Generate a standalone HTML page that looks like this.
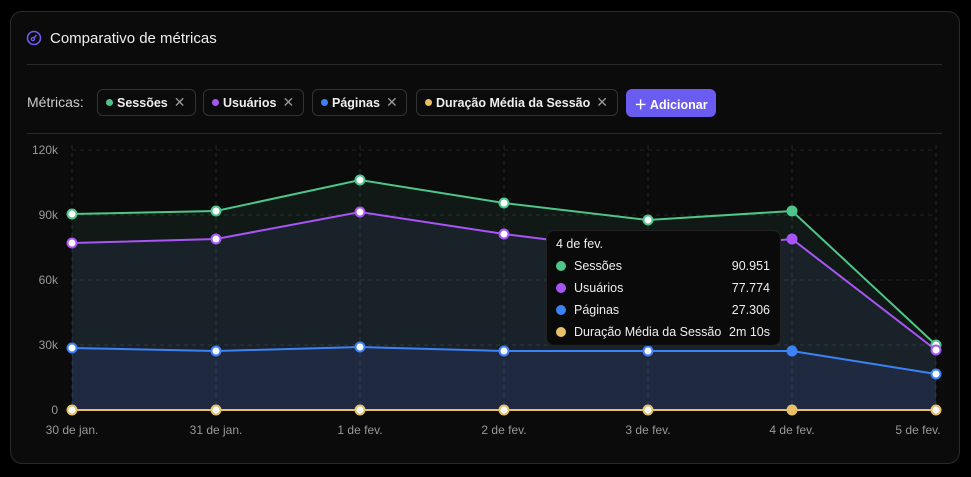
<!DOCTYPE html>
<html><head><meta charset="utf-8"><style>
body{margin:0;width:971px;height:477px;background:#000;font-family:"Liberation Sans",sans-serif;color:#e5e5e5;overflow:hidden;position:relative}
.card{position:absolute;left:10px;top:11px;width:948px;height:451px;border:1px solid #2a2a2a;border-radius:12px;background:#0b0b0b}
.title{position:absolute;left:50px;top:30px;font-size:15px;color:#eee}
.hr{position:absolute;left:27px;width:915px;height:1px;background:#2a2a2a}
.lbl{position:absolute;left:27px;top:94px;font-size:14px;color:#ccc}
.pill{position:absolute;top:89px;height:27px;border:1px solid #333;border-radius:6px;box-sizing:border-box;font-size:12.5px;font-weight:bold;color:#eee;display:flex;align-items:center;padding-left:8px}
.pill i{width:7px;height:7px;border-radius:50%;display:inline-block;margin-right:4px}
.pill b{font-weight:normal;color:#999;margin-left:6px;font-size:14px}
.add{position:absolute;left:626px;top:89px;width:90px;height:28px;border-radius:6px;background:#6a5cf0;color:#fff;font-size:12.5px;font-weight:bold;display:flex;align-items:center;justify-content:center}
.tt{position:absolute;left:546px;top:230px;width:235px;height:116px;background:#0a0a0a;border:1px solid #222;border-radius:8px;box-sizing:border-box;font-size:12.5px;color:#eee}
.row{position:absolute;left:9px;right:10px;display:flex;align-items:center}
.row i{width:10px;height:10px;border-radius:50%;margin-right:8px}
.row span:last-child{margin-left:auto}
</style></head><body>
<div class="card"></div>
<svg style="position:absolute;left:26px;top:30px" width="16" height="16" viewBox="0 0 16 16"><circle cx="8" cy="8" r="6.5" fill="none" stroke="#6a5cf0" stroke-width="1.6"/><circle cx="7" cy="9" r="1.6" fill="none" stroke="#6a5cf0" stroke-width="1.4"/><line x1="8" y1="8" x2="10.5" y2="5" stroke="#6a5cf0" stroke-width="1.4"/></svg>
<div class="title">Comparativo de métricas</div>
<div class="hr" style="top:64px"></div>
<div class="hr" style="top:133px"></div>
<div class="lbl">Métricas:</div>
<div class="pill" style="left:97px;width:99px"><i style="background:#4fc58a"></i>Sessões<b>✕</b></div>
<div class="pill" style="left:203px;width:101px"><i style="background:#a855f7"></i>Usuários<b>✕</b></div>
<div class="pill" style="left:312px;width:95px"><i style="background:#3b82f6"></i>Páginas<b>✕</b></div>
<div class="pill" style="left:416px;width:202px"><i style="background:#e8c06a"></i>Duração Média da Sessão<b>✕</b></div>
<div class="add">＋ Adicionar</div>
<svg style="position:absolute;left:0;top:0" width="971" height="477">
<g stroke="#262626" stroke-dasharray="4 4" stroke-width="1">
<line x1="72" x2="936" y1="150" y2="150"/><line x1="72" x2="936" y1="215" y2="215"/><line x1="72" x2="936" y1="280" y2="280"/><line x1="72" x2="936" y1="345" y2="345"/>
<line x1="72" x2="72" y1="145" y2="410"/><line x1="216" x2="216" y1="145" y2="410"/><line x1="360" x2="360" y1="145" y2="410"/><line x1="504" x2="504" y1="145" y2="410"/><line x1="648" x2="648" y1="145" y2="410"/><line x1="792" x2="792" y1="145" y2="410"/><line x1="936" x2="936" y1="145" y2="410"/>
</g>
<g font-size="12" fill="#999" text-anchor="end"><text x="58" y="154">120k</text><text x="58" y="219">90k</text><text x="58" y="284">60k</text><text x="58" y="349">30k</text><text x="58" y="414">0</text></g>
<g font-size="12" fill="#999" text-anchor="middle"><text x="72" y="434">30 de jan.</text><text x="216" y="434">31 de jan.</text><text x="360" y="434">1 de fev.</text><text x="504" y="434">2 de fev.</text><text x="648" y="434">3 de fev.</text><text x="792" y="434">4 de fev.</text><text x="918" y="434">5 de fev.</text></g>
<polygon points="72,214 216,211 360,180 504,203 648,220 792,211 936,345 936,410 72,410" fill="#4fc58a" fill-opacity="0.08"/>
<polygon points="72,243 216,239 360,212 504,234 648,252 792,239 936,350 936,410 72,410" fill="#5a5aa0" fill-opacity="0.15"/>
<polygon points="72,348 216,351 360,347 504,351 648,351 792,351 936,374 936,410 72,410" fill="#3b5bd0" fill-opacity="0.15"/>
<polyline points="72,214 216,211 360,180 504,203 648,220 792,211 936,345" fill="none" stroke="#4fc58a" stroke-width="2"/>
<polyline points="72,243 216,239 360,212 504,234 648,252 792,239 936,350" fill="none" stroke="#a855f7" stroke-width="2"/>
<polyline points="72,348 216,351 360,347 504,351 648,351 792,351 936,374" fill="none" stroke="#3b82f6" stroke-width="2"/>
<line x1="72" x2="936" y1="410" y2="410" stroke="#e8c06a" stroke-width="2"/>
<g stroke-width="2" fill="#fff">
<g stroke="#4fc58a"><circle cx="72" cy="214" r="4.5"/><circle cx="216" cy="211" r="4.5"/><circle cx="360" cy="180" r="4.5"/><circle cx="504" cy="203" r="4.5"/><circle cx="648" cy="220" r="4.5"/><circle cx="936" cy="345" r="4.5"/></g>
<g stroke="#a855f7"><circle cx="72" cy="243" r="4.5"/><circle cx="216" cy="239" r="4.5"/><circle cx="360" cy="212" r="4.5"/><circle cx="504" cy="234" r="4.5"/><circle cx="936" cy="350" r="4.5"/></g>
<g stroke="#3b82f6"><circle cx="72" cy="348" r="4.5"/><circle cx="216" cy="351" r="4.5"/><circle cx="360" cy="347" r="4.5"/><circle cx="504" cy="351" r="4.5"/><circle cx="648" cy="351" r="4.5"/><circle cx="936" cy="374" r="4.5"/></g>
<g stroke="#e8c06a"><circle cx="72" cy="410" r="4.5"/><circle cx="216" cy="410" r="4.5"/><circle cx="360" cy="410" r="4.5"/><circle cx="504" cy="410" r="4.5"/><circle cx="648" cy="410" r="4.5"/><circle cx="936" cy="410" r="4.5"/></g>
<circle cx="792" cy="211" r="5.5" fill="#4fc58a" stroke="none"/><circle cx="792" cy="239" r="5.5" fill="#a855f7" stroke="none"/><circle cx="792" cy="351" r="5.5" fill="#3b82f6" stroke="none"/><circle cx="792" cy="410" r="5.5" fill="#e8c06a" stroke="none"/>
</g>
</svg>
<div class="tt">
<div class="row" style="top:6px">4 de fev.</div>
<div class="row" style="top:28px"><i style="background:#4fc58a"></i><span>Sessões</span><span>90.951</span></div>
<div class="row" style="top:50px"><i style="background:#a855f7"></i><span>Usuários</span><span>77.774</span></div>
<div class="row" style="top:72px"><i style="background:#3b82f6"></i><span>Páginas</span><span>27.306</span></div>
<div class="row" style="top:94px"><i style="background:#e8c06a"></i><span>Duração Média da Sessão</span><span>2m 10s</span></div>
</div>
</body></html>
